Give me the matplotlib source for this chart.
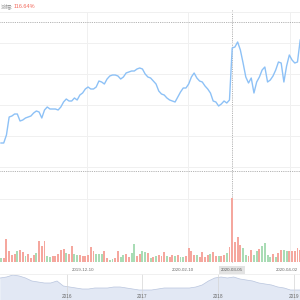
import matplotlib
matplotlib.use('Agg')
import matplotlib.pyplot as plt
import numpy as np

plt.rcParams['font.family'] = ['Liberation Sans', 'Noto Sans CJK SC', 'DejaVu Sans']

# ---- data ----
close = [143, 143, 135, 117, 116, 114, 114, 121, 120, 118,
         117, 116, 113, 111, 112, 118, 110, 107, 109, 109,
         109, 110, 107, 102, 99, 101, 101, 98, 100, 95,
         93, 89, 87, 89, 89, 87, 81, 82, 84, 79,
         76, 75, 75, 76, 79, 77, 73, 72, 71, 71,
         69, 68, 69, 74, 77, 78, 81, 84, 91, 94,
         95, 98, 100, 101, 102, 97, 92, 88, 88, 84,
         77, 73, 78, 81, 82, 86, 89, 93, 101, 102,
         106, 104, 101, 103, 100, 48, 47, 42, 50, 63,
         77, 83, 78, 93, 82, 77, 70, 67, 82, 80,
         76, 70, 62, 63, 82, 66, 55, 60, 63, 62, 40]
close = [180 - c for c in close]

volume = [4, 4, 23, 11, 7, 8, 11, 12, 10, 6,
          8, 4, 7, 9, 21, 16, 21, 6, 5, 6,
          6, 8, 12, 13, 9, 8, 16, 8, 7, 7,
          6, 6, 7, 15, 11, 8, 8, 8, 11, 4,
          2, 3, 4, 11, 5, 7, 8, 5, 9, 18,
          6, 8, 11, 10, 9,
          4, 5, 6, 7, 6, 10, 6, 5, 7, 6,
          7, 5, 5, 6, 14, 11, 7, 7, 5, 10,
          5, 7, 8, 10, 6, 6, 6, 7, 9, 15,
          64,
          20, 25, 17, 14, 7, 6, 12, 7, 11, 13,
          16, 19, 7, 5, 8, 5, 9, 12, 12, 11,
          11, 11, 11, 14, 12]
vol_up = [0, 1, 1, 1, 1, 1, 0, 1, 1, 0,
          1, 1, 1, 0, 1, 1, 1, 0, 0, 1,
          1, 1, 1, 1, 0, 1, 1, 0, 0, 1,
          1, 1, 1, 1, 1, 0, 0, 0, 1, 1,
          0, 0, 1, 1, 0, 0, 1, 1, 0, 0,
          1, 1, 0, 0, 1,
          0, 1, 0, 1, 1, 1, 0, 1, 1, 0,
          1, 0, 0, 1, 1, 1, 1, 0, 1, 1,
          1, 1, 0, 1, 1, 0, 1, 1, 0, 1,
          1,
          1, 1, 1, 0, 0, 1, 1, 0, 0, 1,
          0, 0, 0, 0, 1, 0, 1, 1, 0, 0,
          1, 1, 1, 1, 1]

x_tick_idx = [30, 67, 105]
x_tick_labels = ['2019-12-10', '2020-02-10', '2020-04-02']
cross_idx = 85
cross_label = '2020-03-05'

slider_months = ['2015-%02d' % m for m in range(2, 13)] + \
                ['%d-%02d' % (y, m) for y in (2016, 2017, 2018) for m in range(1, 13)] + \
                ['2019-01', '2019-02']
slider_values = [22, 23, 25, 24, 22, 19, 18, 17, 17, 19, 14,
                 13, 12, 11, 11, 12, 12, 12, 13, 13, 12, 11, 10,
                 10, 10, 11, 12, 12, 12, 12, 12, 13, 15, 19, 22,
                 23, 22, 23, 21, 20, 19, 17, 16, 15, 13, 12, 10,
                 10, 10]
slider_years = [2016, 2017, 2018, 2019]

return_label = '涨幅:'
return_value = '116.64%'

# ---- layout helpers (pixel based) ----
H = 300.0
def fa(top, bottom):
    return [0, 1 - bottom / H, 1, (bottom - top) / H]

px_per_day = 2.72
xlim = (-1 / px_per_day, (300 - 1) / px_per_day)
grid_x = [31.6, 68.7, 106.4]
grid_color = '#f0f0f0'
cross_color = '#9a9a9a'

fig = plt.figure(figsize=(3, 3), dpi=100)
fig.patch.set_facecolor('white')

# background axes for vertical grid and crosshair
bg = fig.add_axes(fa(12, 262), zorder=0)
bg.set_xlim(*xlim)
bg.set_ylim(0, 1)
bg.axis('off')
for gx in grid_x:
    bg.axvline(gx, color=grid_color, lw=0.7)
bg.axvline(cross_idx, ymin=0, ymax=1.01, color=cross_color, lw=0.6,
           linestyle=(0, (1, 1.2)), clip_on=False)

x = np.arange(len(close))

# main price axes
ax = fig.add_axes(fa(12, 175), zorder=2)
ax.patch.set_alpha(0)
ax.set_xlim(*xlim)
ax.set_ylim(5, 168)
for gy in [13, 44, 75, 106, 137, 168]:
    ax.axhline(gy, color=grid_color, lw=0.7, zorder=0)
ax.axhline(158, color=cross_color, lw=0.6, linestyle=(0, (1, 1.2)), zorder=1)
ax.axhline(9, color=cross_color, lw=0.6, linestyle=(0, (1, 1.2)), zorder=1)
ax.plot(x, close, color='#8dc1f6', lw=1.0, zorder=3)
ax.set_xticks([])
ax.set_yticks([])
for s in ax.spines.values():
    s.set_visible(False)

# volume axes
av = fig.add_axes(fa(199, 262), zorder=2)
av.patch.set_alpha(0)
av.set_xlim(*xlim)
av.set_ylim(0, 63)
av.axhline(63, color=grid_color, lw=0.7, zorder=0)
colors = ['#f5a79e' if u else '#a9dcb5' for u in vol_up]
av.bar(x, volume, width=0.72, color=colors, zorder=2, clip_on=False)
av.set_xticks([])
av.set_yticks([])
for s in av.spines.values():
    s.set_visible(False)
for idx, lab in zip(x_tick_idx, x_tick_labels):
    av.text(idx, -8, lab, ha='center', va='center', fontsize=3.2,
            color='#6a6a6a', clip_on=False)
av.text(cross_idx, -8, cross_label, ha='center', va='center', fontsize=3.2,
        color='#5a5a5a', clip_on=False,
        bbox=dict(boxstyle='square,pad=0.5', fc='#e3e3e3', ec='none'))

# slider axes
asl = fig.add_axes(fa(274, 300), zorder=1)
asl.set_xlim(2016 - 66.5 / 75.7, 2016 + 233.5 / 75.7)
asl.set_ylim(0, 26)
sx = [int(m[:4]) + (int(m[5:]) - 0.5) / 12 for m in slider_months]
asl.fill_between(sx, 0, slider_values, color='#e2e8f4', lw=0)
asl.plot(sx, slider_values, color='#b9c5de', lw=0.5)
for yv in slider_years:
    asl.axvline(yv, color='#d5d5d5', lw=0.5)
    asl.text(yv, 3, str(yv), ha='center', va='center', fontsize=3.4,
             color='#6a6a6a')
asl.set_xticks([])
asl.set_yticks([])
for s in asl.spines.values():
    s.set_visible(False)
asl.axhline(26, color='#eeeeee', lw=0.6)

# top label
fig.text(13 / H, 1 - 6 / H, return_label, ha='right', va='center',
         fontsize=4, color='#9a9a9a')
fig.text(14 / H, 1 - 6 / H, return_value, ha='left', va='center',
         fontsize=4, color='#f26b5e')

fig.savefig('out.png', dpi=100)
